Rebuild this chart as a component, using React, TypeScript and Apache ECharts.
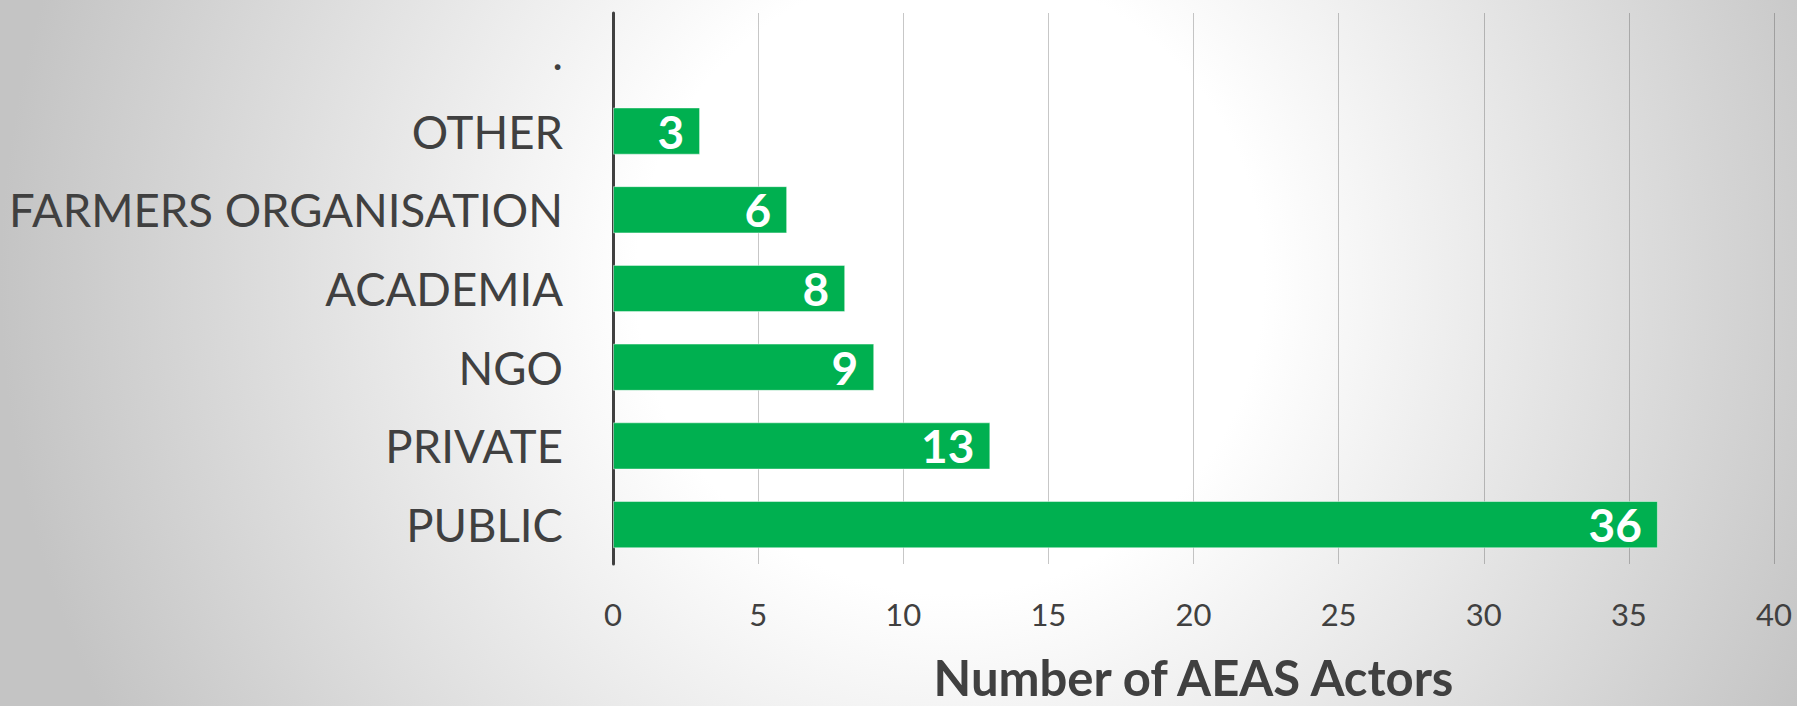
import React, { useEffect, useRef } from "react";
import * as echarts from "echarts";

const categories = ["PUBLIC", "PRIVATE", "NGO", "ACADEMIA", "FARMERS ORGANISATION", "OTHER", "."];
const actorCounts: (number | string)[] = [36, 13, 9, 8, 6, 3, "-"];
const axisTitle = "Number of AEAS Actors";

export default function App() {
  const ref = useRef<HTMLDivElement>(null);
  useEffect(() => {
    if (!ref.current) return;
    const chart = echarts.init(ref.current, null, { renderer: "svg" });
    chart.setOption({
      animation: false,
      backgroundColor: "transparent",
      grid: { left: 613, right: 23, top: 13, bottom: 133, containLabel: false },
      xAxis: {
        type: "value",
        min: 0,
        max: 40,
        interval: 5,
        axisLine: { show: false },
        axisTick: { show: false },
        splitLine: { show: true, lineStyle: { color: "rgba(0,0,0,0.22)", width: 1 } },
        axisLabel: { color: "#404040", fontFamily: "Lato", fontSize: 31, margin: 34 },
        name: axisTitle,
        nameLocation: "middle",
        nameGap: 88,
        nameTextStyle: { color: "#404040", fontFamily: "Lato", fontSize: 49, fontWeight: "bold", lineHeight: 49 },
      },
      yAxis: {
        type: "category",
        data: categories,
        axisLine: { show: true, lineStyle: { color: "#404040", width: 3 } },
        axisTick: { show: false },
        splitLine: { show: false },
        axisLabel: { color: "#404040", fontFamily: "Lato", fontSize: 45.5, margin: 50 },
      },
      series: [
        {
          type: "bar",
          data: actorCounts,
          barCategoryGap: "40%",
          itemStyle: { color: "#00b050", borderColor: "rgba(255,255,255,0.45)", borderWidth: 1 },
          label: {
            show: true,
            position: "insideRight",
            distance: 16,
            color: "#ffffff",
            fontFamily: "Lato",
            fontWeight: "bold",
            fontSize: 46,
          },
        },
      ],
    });
    return () => chart.dispose();
  }, []);
  return (
    <div
      style={{
        position: "absolute",
        left: 0,
        top: 0,
        width: 1797,
        height: 706,
        background:
          "radial-gradient(circle 950px at 950px 280px, #ffffff 0%, #ffffff 33%, #c4c4c4 100%)",
      }}
    >
      <div ref={ref} style={{ width: 1797, height: 706 }} />
    </div>
  );
}
